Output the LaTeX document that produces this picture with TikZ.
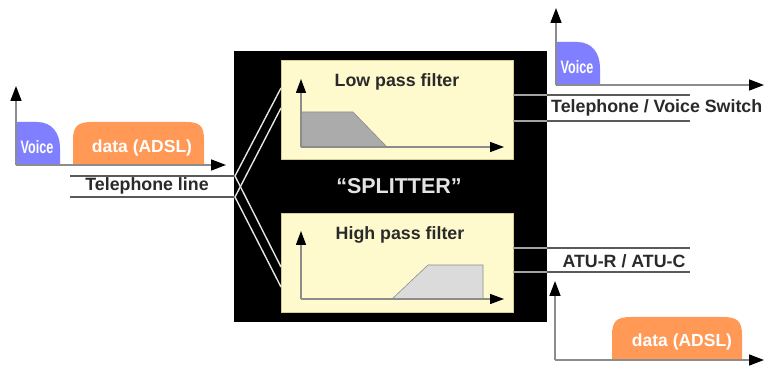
\documentclass[tikz,border=0pt]{standalone}
\usepackage{fontspec}
\setmainfont{Liberation Sans}
\usetikzlibrary{arrows.meta}
\definecolor{voiceblue}{HTML}{7F7FFF}
\definecolor{adslorange}{HTML}{FF9955}
\definecolor{filteryellow}{HTML}{FFFACD}
\definecolor{filteredge}{HTML}{D6CF94}
\definecolor{labelgray}{HTML}{2A2A2A}
\definecolor{wiregray}{HTML}{5A5A5A}
\definecolor{axisgray}{HTML}{8C8C8C}
\definecolor{splitwhite}{HTML}{E4E4E4}
\begin{document}
\begin{tikzpicture}[x=1pt,y=-1pt,
  lbl/.style={font=\fontsize{17.8}{17.8}\selectfont\bfseries, text=labelgray, inner sep=0pt},
  titlelbl/.style={font=\fontsize{17.8}{17.8}\selectfont\bfseries, text=labelgray, inner sep=0pt},
  voicetxt/.style={font=\fontsize{18}{18}\selectfont\bfseries, text=white, inner sep=0pt, xscale=0.7},
  adsltxt/.style={font=\fontsize{17.5}{17.5}\selectfont\bfseries, text=white, inner sep=0pt},
  axisarrow/.style={draw=axisgray, line width=1.6pt, -{Triangle[length=15pt,width=11pt,color=black]}},
  inaxis/.style={draw=axisgray, line width=1.3pt, -{Triangle[length=14pt,width=10pt,color=black]}},
  wire/.style={draw=wiregray, line width=2pt},
  innerwire/.style={draw=axisgray!80, line width=2pt},
  splitwire/.style={draw=splitwhite, line width=1.4pt},
  filterbox/.style={draw=filteredge, line width=1.2pt, fill=filteryellow, minimum width=232pt, minimum height=99pt, anchor=north west, inner sep=0pt},
]
\useasboundingbox[fill=white] (0,0) rectangle (764,366);

% splitter box
\node[fill=black, minimum width=313pt, minimum height=271pt, anchor=north west, inner sep=0pt] (splitter) at (234,51) {};
\node[filterbox] (lpf) at (281,60) {};
\node[filterbox] (hpf) at (281,213) {};
\node[font=\fontsize{21.5}{21.5}\selectfont\bfseries, text=splitwhite, inner sep=0pt] (splitlbl) at (399,186) {“SPLITTER”};
\node[titlelbl] (lpflbl) at (397,82) {Low pass filter};
\node[titlelbl] (hpflbl) at (400,235) {High pass filter};

% low pass graph
\fill[fill=black!33, draw=axisgray, line width=0.6pt] (301,112) -- (353,112) -- (387,147) -- (301,147) -- cycle;
\coordinate (lo) at (301,147);
\coordinate (ly) at (301,79);
\coordinate (lx) at (504,147);
\draw[inaxis] (lo) -- (ly);
\draw[inaxis] (lo) -- (lx);

% high pass graph
\fill[fill=black!14, draw=axisgray, line width=0.6pt] (392,299) -- (428,265) -- (483,265) -- (483,299) -- cycle;
\coordinate (ho) at (301,299);
\coordinate (hy) at (301,231);
\coordinate (hx) at (504,299);
\draw[inaxis] (ho) -- (hy);
\draw[inaxis] (ho) -- (hx);

% left input spectrum
\fill[voiceblue] (16,165) -- (16,122) -- (37,122) .. controls (52,122) and (60,133) .. (60,148) -- (60,165) -- cycle;
\fill[adslorange] (73,165) -- (73,140) .. controls (73,126) and (78,122) .. (92,122) -- (186,122) .. controls (200,122) and (204,126) .. (204,140) -- (204,165) -- cycle;
\node[voicetxt] (v1) at (37,147) {Voice};
\node[adsltxt] (d1) at (142,148) {data (ADSL)};
\coordinate (ao) at (16,165);
\coordinate (ay) at (16,86);
\coordinate (ax) at (226,165);
\draw[axisarrow] (ao) -- (ay);
\draw[axisarrow] (ao) -- (ax);

% telephone line
\coordinate (t1a) at (70,176);
\coordinate (t1b) at (235,176);
\coordinate (t2a) at (70,197);
\coordinate (t2b) at (235,197);
\draw[wire] (t1a) -- (t1b);
\draw[wire] (t2a) -- (t2b);
\node[lbl] (tellbl) at (147,186) {Telephone line};

% splitting wires
\coordinate (lin1) at (281,88);
\coordinate (lin2) at (281,108);
\coordinate (hin1) at (281,267);
\coordinate (hin2) at (281,287);
\draw[splitwire] (t1b) -- (lin1);
\draw[splitwire] (t2b) -- (lin2);
\draw[splitwire] (t1b) -- (hin1);
\draw[splitwire] (t2b) -- (hin2);

% outputs low pass
\coordinate (lo1a) at (513,95);
\coordinate (lo1b) at (547,95);
\coordinate (lo1c) at (690,95);
\coordinate (lo2a) at (513,121);
\coordinate (lo2b) at (547,121);
\coordinate (lo2c) at (690,121);
\draw[innerwire] (lo1a) -- (lo1b);
\draw[wire] (lo1b) -- (lo1c);
\draw[innerwire] (lo2a) -- (lo2b);
\draw[wire] (lo2b) -- (lo2c);
\node[lbl, anchor=west] (tvslbl) at (551,108) {Telephone / Voice Switch};

% outputs high pass
\coordinate (ho1a) at (513,248);
\coordinate (ho1b) at (547,248);
\coordinate (ho1c) at (690,248);
\coordinate (ho2a) at (513,272);
\coordinate (ho2b) at (547,272);
\coordinate (ho2c) at (690,272);
\draw[innerwire] (ho1a) -- (ho1b);
\draw[wire] (ho1b) -- (ho1c);
\draw[innerwire] (ho2a) -- (ho2b);
\draw[wire] (ho2b) -- (ho2c);
\node[lbl] (atulbl) at (624,261) {ATU-R / ATU-C};

% top right spectrum (voice)
\fill[voiceblue] (556,85) -- (556,42) -- (577,42) .. controls (592,42) and (600,53) .. (600,68) -- (600,85) -- cycle;
\node[voicetxt] (v2) at (577,67) {Voice};
\coordinate (bo) at (556,85);
\coordinate (by) at (556,8);
\coordinate (bx) at (764,85);
\draw[axisarrow] (bo) -- (by);
\draw[axisarrow] (bo) -- (bx);

% bottom right spectrum (data)
\fill[adslorange] (612,360) -- (612,335) .. controls (612,321) and (617,317) .. (631,317) -- (723,317) .. controls (737,317) and (742,321) .. (742,335) -- (742,360) -- cycle;
\node[adsltxt] (d2) at (682,342) {data (ADSL)};
\coordinate (co) at (555,360);
\coordinate (cy) at (555,281);
\coordinate (cx) at (764,360);
\draw[axisarrow] (co) -- (cy);
\draw[axisarrow] (co) -- (cx);
\end{tikzpicture}
\end{document}
